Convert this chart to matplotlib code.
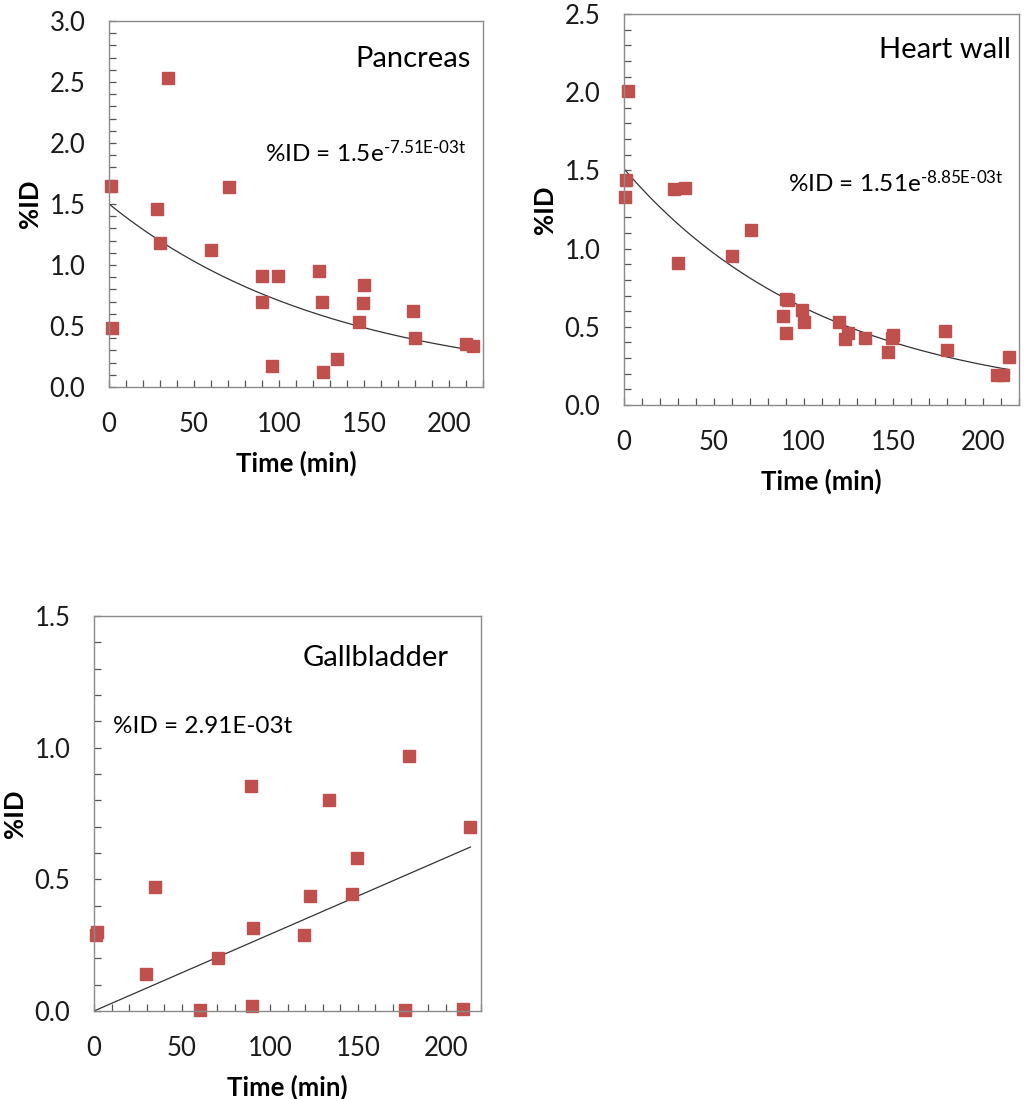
import numpy as np
import matplotlib
matplotlib.use('Agg')
import matplotlib.pyplot as plt
from matplotlib.ticker import MultipleLocator

plt.rcParams['font.family'] = ['Lato', 'DejaVu Sans']
plt.rcParams['mathtext.fontset'] = 'custom'
plt.rcParams['mathtext.rm'] = 'Lato'
plt.rcParams['mathtext.it'] = 'Lato'

# Pancreas
pancreas_t = [1, 2, 28.5, 30, 34.5, 60, 70.5, 90, 90, 99.5, 96, 123.5, 125, 126, 134, 150, 149.5, 147, 179, 180, 210, 214]
pancreas_id = [1.65, 0.48, 1.46, 1.18, 2.53, 1.12, 1.64, 0.91, 0.70, 0.91, 0.17, 0.95, 0.70, 0.12, 0.23, 0.84, 0.69, 0.53, 0.62, 0.40, 0.35, 0.34]
pancreas_fit = (1.5, -7.51e-3)

# Heart wall
heart_t = [2, 1, 0.5, 28, 34, 30, 60, 71, 90, 91.5, 88.5, 90, 99, 100, 120, 123, 125, 134, 147, 150, 149.5, 179, 180, 208, 211, 214.5]
heart_id = [2.01, 1.44, 1.33, 1.38, 1.39, 0.91, 0.95, 1.12, 0.68, 0.67, 0.57, 0.46, 0.61, 0.53, 0.53, 0.42, 0.46, 0.43, 0.34, 0.45, 0.43, 0.47, 0.35, 0.19, 0.19, 0.31]
heart_fit = (1.51, -8.85e-3)

# Gallbladder
gall_t = [1, 1.5, 29.5, 34.5, 60, 70.5, 89, 90, 90.5, 119.5, 123, 133.5, 146.5, 149.5, 177, 179, 210, 214]
gall_id = [0.29, 0.30, 0.14, 0.47, 0.005, 0.20, 0.855, 0.018, 0.315, 0.29, 0.435, 0.80, 0.443, 0.58, 0.003, 0.97, 0.006, 0.70]
gall_slope = 2.91e-3

marker_color = '#C0504D'
W, H = 1024, 1099


def make_axes(fig, left, right, top, bottom):
  return fig.add_axes([left/W, (H-bottom)/H, (right-left)/W, (bottom-top)/H])


def style_axes(ax, ymax):
  ax.set_xlim(0, 220)
  ax.set_ylim(0, ymax)
  ax.xaxis.set_major_locator(MultipleLocator(50))
  ax.xaxis.set_minor_locator(MultipleLocator(10))
  ax.yaxis.set_major_locator(MultipleLocator(0.5))
  ax.yaxis.set_minor_locator(MultipleLocator(0.1))
  ax.yaxis.set_major_formatter(matplotlib.ticker.FormatStrFormatter('%.1f'))
  for s in ax.spines.values():
    s.set_color('#8a8a8a')
    s.set_linewidth(1.0)
  ax.tick_params(which='both', direction='in', length=5, width=0.9, color='#555555',
                 top=False, right=False)
  ax.tick_params(axis='x', which='major', pad=18, labelsize=18.5, labelcolor='#1a1a1a')
  ax.tick_params(axis='y', which='major', pad=17, labelsize=18.5, labelcolor='#1a1a1a')
  ax.set_xlabel('Time (min)', fontsize=18.5, fontweight='bold', labelpad=10)
  ax.set_ylabel('%ID', fontsize=18.5, fontweight='bold', labelpad=5)


fig = plt.figure(figsize=(W/100, H/100), dpi=100)

# panel 1
ax1 = make_axes(fig, 109, 483, 21, 387)
style_axes(ax1, 3.0)
t = np.linspace(0, 214, 200)
ax1.plot(t, pancreas_fit[0]*np.exp(pancreas_fit[1]*t), color='#333333', lw=0.9)
ax1.plot(pancreas_t, pancreas_id, 's', color=marker_color, markersize=8.5, clip_on=False)
ax1.text(212.5, 2.69, 'Pancreas', ha='right', va='center', fontsize=21)
ax1.text(92, 1.92, r'%ID = 1.5e$^{\text{-7.51E-03t}}$', ha='left', va='center', fontsize=17.5)

# panel 2
ax2 = make_axes(fig, 624, 1019, 14, 405)
style_axes(ax2, 2.5)
t = np.linspace(0, 214.5, 200)
ax2.plot(t, heart_fit[0]*np.exp(heart_fit[1]*t), color='#333333', lw=0.9)
ax2.plot(heart_t, heart_id, 's', color=marker_color, markersize=8.5, clip_on=False)
ax2.text(215.5, 2.27, 'Heart wall', ha='right', va='center', fontsize=21)
ax2.text(91.5, 1.42, r'%ID = 1.51e$^{\text{-8.85E-03t}}$', ha='left', va='center', fontsize=17.5)

# panel 3
ax3 = make_axes(fig, 94, 481, 616, 1011)
style_axes(ax3, 1.5)
t = np.linspace(0, 214, 50)
ax3.plot(t, gall_slope*t, color='#333333', lw=0.9)
ax3.plot(gall_t, gall_id, 's', color=marker_color, markersize=8.5, clip_on=False)
ax3.text(201.5, 1.34, 'Gallbladder', ha='right', va='center', fontsize=21)
ax3.text(11, 1.08, '%ID = 2.91E-03t', ha='left', va='center', fontsize=17.5)

fig.savefig('out.png', dpi=100)
